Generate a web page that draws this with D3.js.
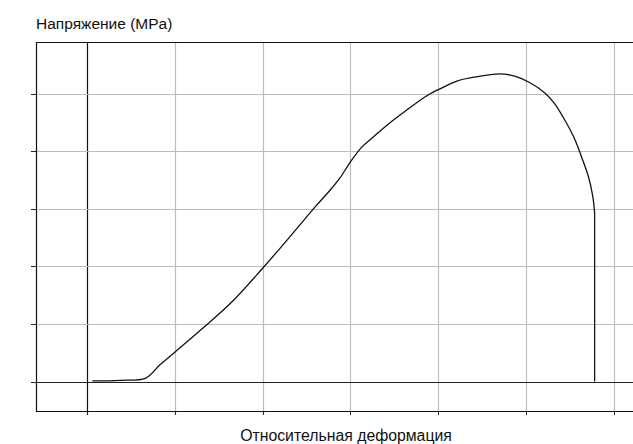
<!DOCTYPE html>
<html>
<head>
<meta charset="utf-8">
<script src="https://cdn.jsdelivr.net/npm/d3@7"></script>
<style>
  body { margin: 0; background: #fff; }
  text { font-family: "Liberation Sans", Arial, sans-serif; fill: #111; }
</style>
</head>
<body>
<div id="chart"></div>
<script>
// strain (grid units) and stress (grid units)
var strain = [0.06, 0.38, 0.67, 0.83, 1.00, 1.32, 1.66, 2.00, 2.20, 2.40, 2.60, 2.77, 2.88, 3.00,
              3.13, 3.22, 3.45, 3.64, 3.87, 4.02, 4.22, 4.48, 4.70, 4.87, 5.04, 5.22, 5.32, 5.42,
              5.54, 5.63, 5.71, 5.76, 5.78, 5.78];
var stress = [0.01, 0.02, 0.06, 0.29, 0.51, 0.93, 1.40, 1.97, 2.32, 2.68, 3.04, 3.33, 3.54, 3.82,
              4.08, 4.20, 4.50, 4.72, 4.97, 5.09, 5.23, 5.31, 5.35, 5.31, 5.20, 5.01, 4.84, 4.60,
              4.26, 3.91, 3.56, 3.21, 2.93, 0.00];
var xTicks = [0, 1, 2, 3, 4, 5, 6];
var yTicks = [0, 1, 2, 3, 4, 5];
var yTitle = "Напряжение (MPa)";
var xTitle = "Относительная деформация";

var width = 633, height = 444;
var margin = {left: 36, top: 42, bottom: 411};

var svg = d3.select("#chart").append("svg")
    .attr("width", width)
    .attr("height", height);

var x = d3.scaleLinear().domain([-0.581, 6.217]).range([margin.left, width]);
var y = d3.scaleLinear().domain([-0.513, 5.904]).range([margin.bottom, margin.top]);

//grid lines (gray), zero lines in black
svg.append("g").selectAll("line")
    .data(xTicks)
    .enter().append("line")
    .attr("x1", function (d) { return Math.round(x(d)) + 0.5; })
    .attr("x2", function (d) { return Math.round(x(d)) + 0.5; })
    .attr("y1", margin.top)
    .attr("y2", margin.bottom + 4)
    .attr("stroke", function (d) { return d === 0 ? "#111" : "#bdbdbd"; })
    .attr("stroke-width", 1.2);

svg.append("g").selectAll("line")
    .data(yTicks)
    .enter().append("line")
    .attr("x1", margin.left - 5)
    .attr("x2", width)
    .attr("y1", function (d) { return Math.round(y(d)) + 0.5; })
    .attr("y2", function (d) { return Math.round(y(d)) + 0.5; })
    .attr("stroke", function (d) { return d === 0 ? "#222" : "#bdbdbd"; })
    .attr("stroke-width", 1.2);

//small dark tick stubs outside the frame
svg.append("g").selectAll("line")
    .data(yTicks)
    .enter().append("line")
    .attr("x1", margin.left - 5)
    .attr("x2", margin.left)
    .attr("y1", function (d) { return Math.round(y(d)) + 0.5; })
    .attr("y2", function (d) { return Math.round(y(d)) + 0.5; })
    .attr("stroke", "#222");
svg.append("g").selectAll("line")
    .data(xTicks)
    .enter().append("line")
    .attr("x1", function (d) { return Math.round(x(d)) + 0.5; })
    .attr("x2", function (d) { return Math.round(x(d)) + 0.5; })
    .attr("y1", margin.bottom)
    .attr("y2", margin.bottom + 4)
    .attr("stroke", "#222");

//frame: left, top, bottom
svg.append("path")
    .attr("d", "M" + width + "," + (margin.top + 0.5) + "H" + (margin.left + 0.5) +
        "V" + (margin.bottom + 0.5) + "H" + width)
    .attr("fill", "none")
    .attr("stroke", "#111")
    .attr("stroke-width", 1.2);

//the curve: smooth part, then the straight drop at break
var pts = strain.map(function (d, i) { return [d, stress[i]]; });
var n = pts.length;
var smooth = d3.line()
    .x(function (d) { return x(d[0]); })
    .y(function (d) { return y(d[1]); })
    .curve(d3.curveCatmullRom.alpha(0.5));
var straight = d3.line()
    .x(function (d) { return x(d[0]); })
    .y(function (d) { return y(d[1]); });
svg.append("path")
    .datum(pts.slice(0, n - 1))
    .attr("d", smooth)
    .attr("fill", "none")
    .attr("stroke", "#111")
    .attr("stroke-width", 1.3);
svg.append("path")
    .datum(pts.slice(n - 2))
    .attr("d", straight)
    .attr("fill", "none")
    .attr("stroke", "#111")
    .attr("stroke-width", 1.3);

//titles
svg.append("text")
    .attr("x", margin.left)
    .attr("y", 29)
    .style("font-size", "15.5px")
    .text(yTitle);
svg.append("text")
    .attr("x", 346)
    .attr("y", 441)
    .attr("text-anchor", "middle")
    .style("font-size", "15.8px")
    .text(xTitle);
</script>
</body>
</html>
